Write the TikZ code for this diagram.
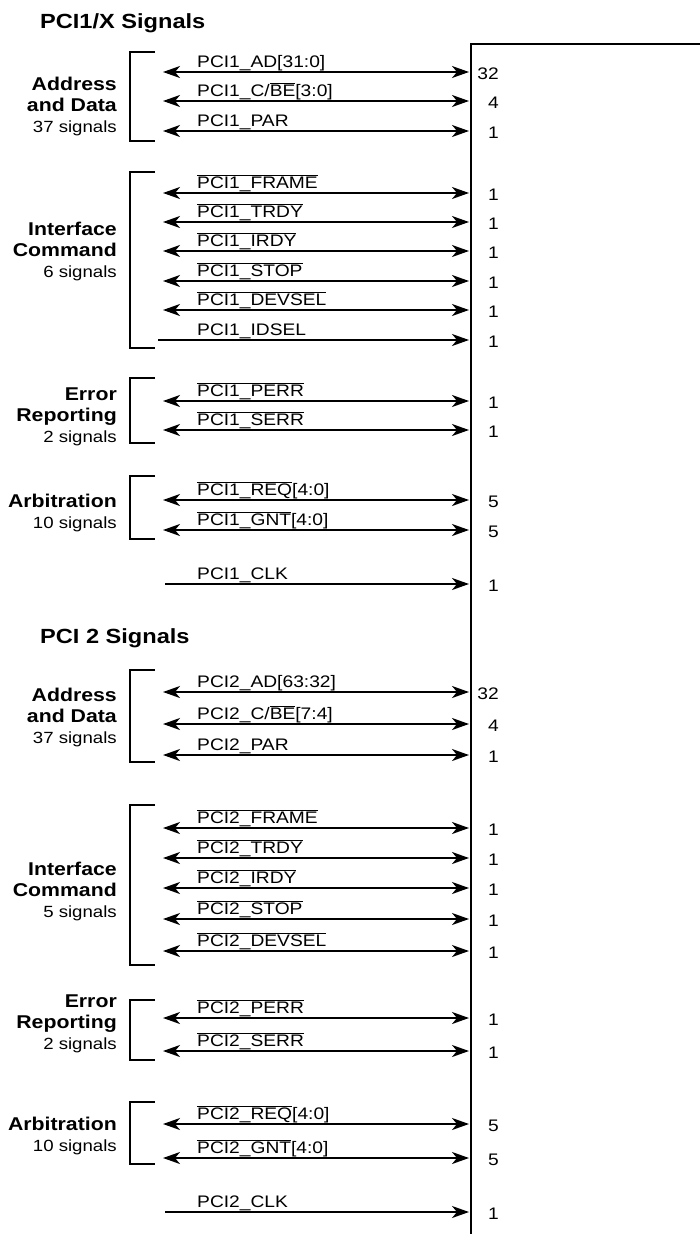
\documentclass[tikz,border=0pt]{standalone}
\usepackage{fontspec}
\setmainfont{Liberation Sans}[FakeStretch=1.15]
\usetikzlibrary{arrows.meta,positioning}

\newcommand{\ovl}[1]{$\overline{\mbox{#1}}$}
\newcommand{\cnt}{\mdseries\fontsize{16.2}{21}\selectfont}

\begin{document}
\begin{tikzpicture}[
  x=1pt, y=-1pt,
  sigtip/.tip={Stealth[length=17pt,width=12pt,inset=5pt]},
  sig/.style={line width=1.8pt},
  bidir/.style={sig, sigtip-sigtip},
  input/.style={sig, -sigtip},
  bracket/.style={line width=1.9pt},
  siglab/.style={anchor=base west, inner sep=0pt, font=\fontsize{16.7}{20}\selectfont},
  buswidth/.style={anchor=east, inner sep=0pt, font=\fontsize{16.7}{20}\selectfont},
  grplab/.style={anchor=north east, align=right, inner sep=0pt, font=\fontsize{18.5}{21}\selectfont\bfseries},
  title/.style={anchor=base west, inner sep=0pt, font=\fontsize{20.5}{24}\selectfont\bfseries},
]
\useasboundingbox (0,0) rectangle (700,1234);

% Device box (runs off the page)
\node[draw, line width=2.2pt, anchor=north west, inner sep=0pt,
  minimum width=300pt, minimum height=1250pt] (dev) at (470,43) {};

% Section titles
\node[title] (pci1) at (40,28) {PCI1/X Signals};
\node[title] (pci2) at (40,643) {PCI 2 Signals};

% Group brackets and labels
\foreach \top/\bot/\base/\txt [count=\i] in {
  52/141/90/{Address\\and Data\\{\cnt 37 signals}},
  172/348/235/{Interface\\Command\\{\cnt 6 signals}},
  378/443/401/{Error\\Reporting\\{\cnt 2 signals}},
  476/539/507/{Arbitration\\{\cnt 10 signals}},
  670/762/701/{Address\\and Data\\{\cnt 37 signals}},
  805/965/875/{Interface\\Command\\{\cnt 5 signals}},
  1000/1060/1008/{Error\\Reporting\\{\cnt 2 signals}},
  1102/1164/1130/{Arbitration\\{\cnt 10 signals}}} {
  \draw[bracket] (155,\top) -- (130,\top) -- (130,\bot) -- (155,\bot);
  \node[grplab] (grp\i) at (117,\base-13.3) {\txt};
}

% Bidirectional signals
\foreach \y/\lab/\w [count=\i] in {
  72/{PCI1\_AD[31:0]}/32,
  101/{PCI1\_C/\ovl{BE}[3:0]}/4,
  131/{PCI1\_PAR}/1,
  193/{\ovl{PCI1\_FRAME}}/1,
  222/{\ovl{PCI1\_TRDY}}/1,
  251/{\ovl{PCI1\_IRDY}}/1,
  281/{\ovl{PCI1\_STOP}}/1,
  310/{\ovl{PCI1\_DEVSEL}}/1,
  401/{\ovl{PCI1\_PERR}}/1,
  430/{\ovl{PCI1\_SERR}}/1,
  500/{\ovl{PCI1\_REQ}[4:0]}/5,
  530/{\ovl{PCI1\_GNT}[4:0]}/5,
  692/{PCI2\_AD[63:32]}/32,
  724/{PCI2\_C/\ovl{BE}[7:4]}/4,
  755/{PCI2\_PAR}/1,
  828/{\ovl{PCI2\_FRAME}}/1,
  858/{\ovl{PCI2\_TRDY}}/1,
  888/{\ovl{PCI2\_IRDY}}/1,
  919/{\ovl{PCI2\_STOP}}/1,
  951/{\ovl{PCI2\_DEVSEL}}/1,
  1018/{\ovl{PCI2\_PERR}}/1,
  1051/{\ovl{PCI2\_SERR}}/1,
  1124/{\ovl{PCI2\_REQ}[4:0]}/5,
  1158/{\ovl{PCI2\_GNT}[4:0]}/5} {
  \coordinate (sigL\i) at (163,\y);
  \coordinate (sigR\i) at (469,\y);
  \draw[bidir] (sigL\i) -- (sigR\i);
  \node[siglab] (lab\i) at (197,\y-5) {\lab};
  \node[buswidth] (bw\i) at (499,\y+2) {\w};
}

% Input-only signals
\foreach \x/\y/\lab/\nm in {
  158/340/{PCI1\_IDSEL}/idsel1,
  165/584/{PCI1\_CLK}/clk1,
  165/1212/{PCI2\_CLK}/clk2} {
  \coordinate (\nm-l) at (\x,\y);
  \coordinate (\nm-r) at (469,\y);
  \draw[input] (\nm-l) -- (\nm-r);
  \node[siglab] (\nm-lab) at (197,\y-5) {\lab};
  \node[buswidth] (\nm-bw) at (499,\y+2) {1};
}
\end{tikzpicture}
\end{document}
